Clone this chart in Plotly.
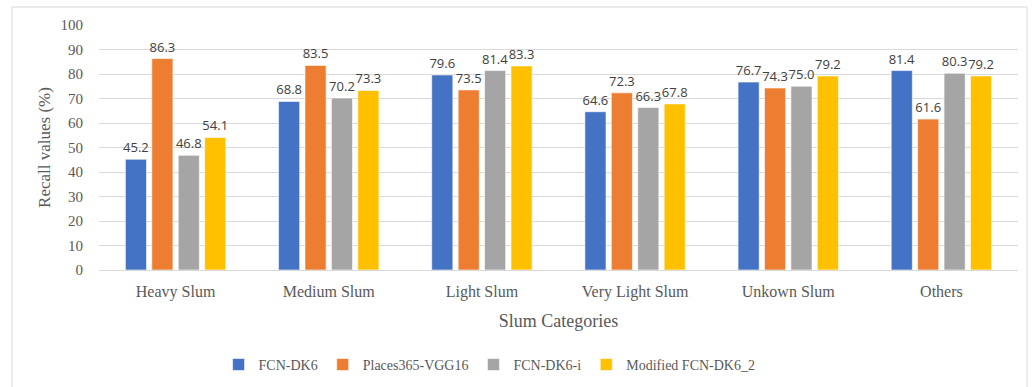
import plotly.graph_objects as go

categories = ["Heavy Slum", "Medium Slum", "Light Slum", "Very Light Slum", "Unkown Slum", "Others"]
series_names = ["FCN-DK6", "Places365-VGG16", "FCN-DK6-i", "Modified FCN-DK6_2"]
fcn_dk6 = [45.2, 68.8, 79.6, 64.6, 76.7, 81.4]
places365_vgg16 = [86.3, 83.5, 73.5, 72.3, 74.3, 61.6]
fcn_dk6_i = [46.8, 70.2, 81.4, 66.3, 75.0, 80.3]
modified_fcn_dk6_2 = [54.1, 73.3, 83.3, 67.8, 79.2, 79.2]
y_ticks = [0, 10, 20, 30, 40, 50, 60, 70, 80, 90, 100]

colors = ["#4472C4", "#ED7D31", "#A5A5A5", "#FFC000"]
serif = "Liberation Serif, DejaVu Serif, serif"
grey = "#595959"

fig = go.Figure()
for name, vals, col in zip(series_names,
                           [fcn_dk6, places365_vgg16, fcn_dk6_i, modified_fcn_dk6_2],
                           colors):
    fig.add_trace(go.Bar(
        name=name, x=categories, y=vals,
        marker=dict(color=col, line=dict(color="rgba(255,255,255,0.6)", width=1)),
        text=[f"{v:.1f}" for v in vals],
        textposition="outside",
        constraintext="none",
        textfont=dict(family="Open Sans, DejaVu Sans, sans-serif", size=13, color="#404040"),
        cliponaxis=False,
    ))

fig.update_layout(
    width=1035, height=387,
    margin=dict(l=99, r=17, t=25, b=117, autoexpand=False),
    paper_bgcolor="white", plot_bgcolor="white",
    barmode="group", bargap=0.31, bargroupgap=0.2,
    font=dict(family=serif, color=grey, size=15),
    showlegend=True,
    legend=dict(orientation="h", x=0.425, xanchor="center",
                yref="container", y=0.057, yanchor="middle",
                font=dict(family=serif, size=14, color=grey),
                itemwidth=30, traceorder="normal"),
    xaxis=dict(
        title=dict(text="Slum Categories", font=dict(family=serif, size=18, color=grey), standoff=14),
        tickfont=dict(family=serif, size=16, color=grey),
        showline=False, ticks="", ticklabelstandoff=10, automargin=False,
    ),
    yaxis=dict(
        title=dict(text="Recall values (%)", font=dict(family=serif, size=17, color=grey), standoff=5),
        range=[0, 100], tickvals=y_ticks,
        tickfont=dict(family=serif, size=15, color=grey),
        gridcolor="#D9D9D9", gridwidth=1,
        zeroline=True, zerolinecolor="#D9D9D9", zerolinewidth=1,
        showline=False, ticks="", ticklabelstandoff=15, automargin=False,
    ),
    shapes=[dict(type="rect", xref="paper", yref="paper",
                 x0=-0.0947, x1=1.0098, y0=-0.6, y1=1.0735,
                 line=dict(color="#D9D9D9", width=1), fillcolor="rgba(0,0,0,0)", layer="below")],
)

fig.write_html("out.html")
